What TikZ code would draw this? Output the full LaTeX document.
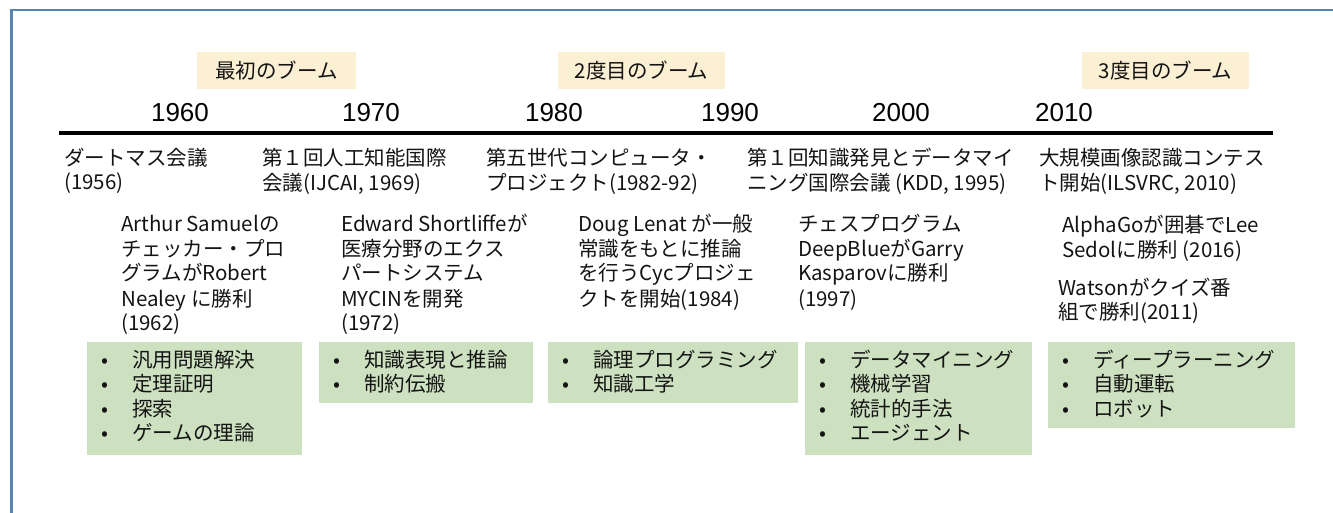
\documentclass[tikz,border=0pt]{standalone}
\usepackage{fontspec}
\setmainfont{Noto Sans CJK JP}
\newfontfamily\yearfont{Liberation Sans}
\definecolor{frameblue}{RGB}{88,134,180}
\definecolor{boomfill}{RGB}{252,240,212}
\definecolor{listfill}{RGB}{205,225,193}
\definecolor{ink}{RGB}{20,20,20}
\newcommand{\evfont}{\fontsize{20.5}{24}\selectfont}
\newcommand{\evfontb}{\fontsize{20.5}{25}\selectfont}
\newcommand{\lstfont}{\fontsize{20.5}{24.5}\selectfont}
\tikzset{
  yr/.style={font=\yearfont\fontsize{26}{30}\selectfont, text=black, anchor=base, inner sep=0pt},
  boom/.style={fill=boomfill, minimum height=37pt, inner sep=0pt, font=\evfont, text=ink},
  ev/.style={anchor=base west, inner sep=0pt, font=\evfont, text=ink},
  evb/.style={anchor=base west, inner sep=0pt, font=\evfontb, text=ink},
  grn/.style={fill=listfill, anchor=north west, inner sep=0pt},
  lst/.style={anchor=base west, inner sep=0pt, font=\lstfont, text=ink},
}
\newcommand{\items}[1]{\begin{tabular}[t]{@{}p{31pt}@{}l@{}}#1\end{tabular}}
\newcommand{\lines}[1]{\begin{tabular}[t]{@{}l@{}}#1\end{tabular}}
\begin{document}
\begin{tikzpicture}[x=1pt,y=-1pt]
\useasboundingbox (0,0) rectangle (1333,513);
% frame
\coordinate (fa) at (11.5,513);
\coordinate (fb) at (11.5,10);
\coordinate (fc) at (1333,10);
\draw[frameblue, line width=2.5pt] (fa) -- (fb) -- (fc);
% boom labels
\node[boom, minimum width=159pt] (b1) at (276.5,71) {最初のブーム};
\node[boom, minimum width=167pt] (b2) at (641.5,71) {2度目のブーム};
\node[boom, minimum width=167pt] (b3) at (1165.5,71) {3度目のブーム};
% years
\node[yr] (y60) at (180,122) {1960};
\node[yr] (y70) at (371,122) {1970};
\node[yr] (y80) at (554,122) {1980};
\node[yr] (y90) at (730,122) {1990};
\node[yr] (y00) at (901,122) {2000};
\node[yr] (y10) at (1064,122) {2010};
% timeline
\coordinate (t0) at (59,133.5);
\coordinate (t1) at (1273,133.5);
\draw[black, line width=4pt] (t0) -- (t1);
% row 1 events
\node[ev] (e1) at (64,166) {\lines{ダートマス会議\\(1956)}};
\node[ev] (e2) at (262,166) {\lines{第１回人工知能国際\\会議(IJCAI, 1969)}};
\node[ev] (e3) at (486,166) {\lines{第五世代コンピュータ・\\プロジェクト(1982-92)}};
\node[ev] (e4) at (747,166) {\lines{第１回知識発見とデータマイ\\ニング国際会議 (KDD, 1995)}};
\node[ev] (e5) at (1039,166) {\lines{大規模画像認識コンテス\\ト開始(ILSVRC, 2010)}};
% row 2 events
\node[evb] (f1) at (121,231) {\lines{Arthur Samuelの\\チェッカー・プロ\\グラムがRobert\\Nealey に勝利\\(1962)}};
\node[evb] (f2) at (341,231) {\lines{Edward Shortliffeが\\医療分野のエクス\\パートシステム\\MYCINを開発\\(1972)}};
\node[evb] (f3) at (578,231) {\lines{Doug Lenat が一般\\常識をもとに推論\\を行うCycプロジェ\\クトを開始(1984)}};
\node[evb] (f4) at (798,231) {\lines{チェスプログラム\\DeepBlueがGarry\\Kasparovに勝利\\(1997)}};
\node[ev] (f5) at (1062,233) {\lines{AlphaGoが囲碁でLee\\Sedolに勝利 (2016)}};
\node[ev] (f6) at (1058,295) {\lines{Watsonがクイズ番\\組で勝利(2011)}};
% list boxes
\node[grn, minimum width=215pt, minimum height=113pt] (g1) at (87,342) {};
\node[grn, minimum width=214pt, minimum height=61pt] (g2) at (319,342) {};
\node[grn, minimum width=250pt, minimum height=61pt] (g3) at (548,342) {};
\node[grn, minimum width=227pt, minimum height=113pt] (g4) at (805,342) {};
\node[grn, minimum width=247pt, minimum height=86pt] (g5) at (1048,342) {};
\node[lst] (l1) at (101,367) {\items{•&汎用問題解決\\•&定理証明\\•&探索\\•&ゲームの理論}};
\node[lst] (l2) at (333,367) {\items{•&知識表現と推論\\•&制約伝搬}};
\node[lst] (l3) at (562,367) {\items{•&論理プログラミング\\•&知識工学}};
\node[lst] (l4) at (819,367) {\items{•&データマイニング\\•&機械学習\\•&統計的手法\\•&エージェント}};
\node[lst] (l5) at (1062,367) {\items{•&ディープラーニング\\•&自動運転\\•&ロボット}};
\end{tikzpicture}
\end{document}
